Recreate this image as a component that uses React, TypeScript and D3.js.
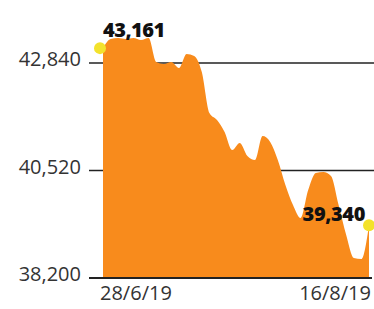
import React from "react";
import * as d3 from "d3";

// closing values, one per trading session, 28/6/19 .. 16/8/19
const closes = [
  43161, 43358, 43379, 43358, 43379, 43336, 43379, 42861, 42818, 42861,
  42732, 43034, 42990, 42645, 41760, 41610, 41351, 40962, 41113, 40833,
  40746, 41264, 41135, 40746, 40207, 39775, 39495, 40099, 40466, 40488,
  40401, 39775, 39128, 38632, 38610, 39340,
];
const dateLabels = ["28/6/19", "16/8/19"];
const yTicks = [38200, 40520, 42840];
const callouts = [
  { index: 0, text: "43,161" },
  { index: closes.length - 1, text: "39,340" },
];

const W = 374, H = 309;
const fmt = d3.format(",");

const App = () => {
  const x = d3.scaleLinear([0, closes.length - 1], [103, 369]);
  const y = d3.scaleLinear([38200, 42840], [278, 63]);
  const area = d3
    .area<number>()
    .x((_, i) => x(i))
    .y0(y(38200))
    .y1(d => y(d))
    .curve(d3.curveMonotoneX);

  return (
    <div style={{ position: "fixed", left: 0, top: 0 }}>
      <svg width={W} height={H} style={{ display: "block", background: "#fff" }}>
        {yTicks.map(t => (
          <g key={t}>
            <line x1={89} x2={t === 38200 ? 372 : W} y1={y(t)} y2={y(t)}
              stroke="#222" strokeWidth={t === 38200 ? 1.8 : 1.3} />
            <text x={81} y={y(t) + 3} textAnchor="end" fontFamily="Open Sans"
              fontSize={20} fill="#333">{fmt(t)}</text>
          </g>
        ))}
        <path d={area(closes) || ""} fill="#f88b1c" />
        <line x1={89} x2={372} y1={y(38200)} y2={y(38200)} stroke="#222" strokeWidth={1.8} />
        <text x={100} y={300} fontFamily="Open Sans" fontSize={20} fill="#333">{dateLabels[0]}</text>
        <text x={371} y={300} textAnchor="end" fontFamily="Open Sans" fontSize={20} fill="#333">{dateLabels[1]}</text>
        {callouts.map(c => (
          <circle key={c.text} cx={x(c.index) - (c.index === 0 ? 3 : 0)} cy={y(closes[c.index])} r={6} fill="#f3e22c" />
        ))}
        <text x={103} y={37} fontFamily="Open Sans" fontWeight={800} fontSize={20}
          letterSpacing={-0.5} fill="#111">{callouts[0].text}</text>
        <text x={365} y={221} textAnchor="end" fontFamily="Open Sans" fontWeight={800} fontSize={20}
          letterSpacing={-0.4} fill="#111">{callouts[1].text}</text>
      </svg>
    </div>
  );
};

export default App;
